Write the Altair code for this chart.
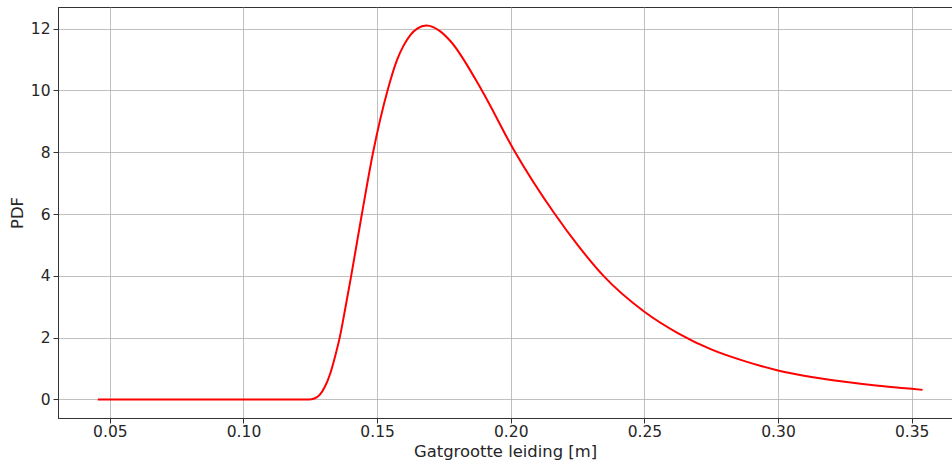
import altair as alt
import pandas as pd

# Values
x_vals = [0.0455, 0.07, 0.10, 0.1245, 0.1265, 0.1285, 0.1305, 0.1325, 0.1343, 0.1360,
          0.1382, 0.1403, 0.1443, 0.1485, 0.1539, 0.1575, 0.1599, 0.1625, 0.1650,
          0.1684, 0.1710, 0.1735, 0.1774, 0.1892, 0.2010, 0.2165, 0.2250, 0.2347,
          0.2500, 0.2625, 0.2750, 0.2875, 0.3000, 0.3125, 0.3250, 0.3375, 0.3500, 0.3541]
pdf_vals = [0.0, 0.0, 0.0, 0.0, 0.03, 0.15, 0.42, 0.85, 1.4, 2.0,
            3.0, 4.0, 6.0, 8.0, 10.0, 11.0, 11.45, 11.8, 12.0,
            12.1, 12.05, 11.92, 11.6, 10.0, 8.1, 6.0, 5.0, 4.0,
            2.84, 2.15, 1.62, 1.24, 0.94, 0.73, 0.57, 0.44, 0.345, 0.31]
x_ticks = [0.05, 0.10, 0.15, 0.20, 0.25, 0.30, 0.35]
y_ticks = [0, 2, 4, 6, 8, 10, 12]

df = pd.DataFrame({"x": x_vals, "pdf": pdf_vals})

chart = alt.Chart(df).mark_line(color="#ff0000", strokeWidth=2, interpolate="monotone", clip=True).encode(
    x=alt.X("x:Q", title="Gatgrootte leiding [m]",
            scale=alt.Scale(domain=[0.0306, 0.3651], nice=False, zero=False),
            axis=alt.Axis(values=x_ticks, format=".2f", titlePadding=4, labelPadding=1)),
    y=alt.Y("pdf:Q", title="PDF",
            scale=alt.Scale(domain=[-0.6, 12.7], nice=False, zero=False),
            axis=alt.Axis(values=y_ticks, format="d", titlePadding=5, labelPadding=3)),
).properties(
    width=894, height=411,
    autosize=alt.AutoSizeParams(type="none"),
    padding={"left": 58, "top": 7, "right": 0, "bottom": 47},
).configure_view(
    stroke="#333333", strokeWidth=1
).configure_axis(
    grid=True, gridColor="#b0b0b0", gridWidth=0.8,
    domainColor="#333333", domainWidth=1,
    tickColor="#333333", tickSize=5, tickWidth=1,
    labelFont="DejaVu Sans", labelFontSize=15.5, labelColor="#262626",
    titleFont="DejaVu Sans", titleFontSize=16.4, titleColor="#262626", titleFontWeight="normal",
)

chart.save("out.html", embed_options={"renderer": "svg", "actions": False})
